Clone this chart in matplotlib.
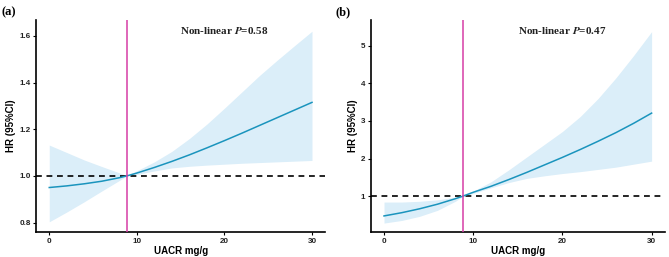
import matplotlib.pyplot as plt

# ============================================
# Data
# ============================================

uacr = [0, 2, 4, 6, 8, 8.87, 10, 12, 14, 16, 18, 20, 22, 24, 26, 28, 30]

# panel (a)
hr_a = [0.950, 0.957, 0.966, 0.977, 0.992, 1.000, 1.012, 1.036, 1.062, 1.090, 1.120, 1.151,
        1.183, 1.216, 1.249, 1.282, 1.315]
lo_a = [0.803, 0.845, 0.889, 0.935, 0.980, 1.000, 1.006, 1.021, 1.034, 1.041, 1.046, 1.050,
        1.054, 1.057, 1.060, 1.063, 1.066]
hi_a = [1.132, 1.100, 1.068, 1.040, 1.013, 1.000, 1.022, 1.060, 1.105, 1.160, 1.222, 1.290,
        1.360, 1.430, 1.495, 1.558, 1.620]

# panel (b)
hr_b = [0.47, 0.557, 0.661, 0.783, 0.929, 1.00, 1.10, 1.26, 1.44, 1.63, 1.83, 2.03,
        2.24, 2.46, 2.69, 2.94, 3.21]
lo_b = [0.28, 0.35, 0.46, 0.62, 0.86, 1.00, 1.07, 1.22, 1.36, 1.47, 1.54, 1.60,
        1.65, 1.71, 1.77, 1.85, 1.93]
hi_b = [0.84, 0.84, 0.86, 0.90, 0.97, 1.00, 1.13, 1.38, 1.70, 2.04, 2.38, 2.72,
        3.12, 3.60, 4.15, 4.75, 5.38]

ref_x = 8.87
ticks_a = [0.8, 1.0, 1.2, 1.4, 1.6]
ticks_b = [1, 2, 3, 4, 5]

# ============================================
# Plot
# ============================================

plt.rcParams["font.family"] = "Liberation Sans"
plt.rcParams["mathtext.fontset"] = "stix"

fig = plt.figure(figsize=(6.69, 2.57), dpi=100)
ax_a = fig.add_axes([0.054, 0.097, 0.432, 0.825])
ax_b = fig.add_axes([0.554, 0.097, 0.440, 0.825])

panels = [
    (ax_a, hr_a, lo_a, hi_a, ticks_a, (0.759, 1.668), "0.58", "(a)", 0.0, "{:.1f}"),
    (ax_b, hr_b, lo_b, hi_b, ticks_b, (0.04, 5.69), "0.47", "(b)", 0.5, "{:d}"),
]

for ax, hr, lo, hi, yt, ylim, p, tag, figx, fmt in panels:
    ax.fill_between(uacr, lo, hi, color="#dbeef9", lw=0, zorder=1)
    ax.plot(uacr, hr, color="#1a94bd", lw=1.1, zorder=3)
    ax.axhline(1, color="black", lw=1.2, ls=(0, (3.5, 2.8)), zorder=2)
    ax.axvline(ref_x, color="#d63da6", lw=1.1, zorder=4)

    ax.set_xlim(-1.5, 31.5)
    ax.set_ylim(*ylim)
    ax.set_xticks([0, 10, 20, 30])
    ax.set_yticks(yt)
    ax.set_yticklabels([fmt.format(v) for v in yt])

    for s in ["top", "right"]:
        ax.spines[s].set_visible(False)
    for s in ["left", "bottom"]:
        ax.spines[s].set_linewidth(1.2)
    ax.tick_params(length=2.5, width=0.8, labelsize=5.8, pad=1.5)
    for lab in ax.get_xticklabels() + ax.get_yticklabels():
        lab.set_fontweight("bold")
        lab.set_color("#222222")

    ax.set_xlabel("UACR mg/g", fontsize=7, fontweight="bold", labelpad=1)
    ax.set_ylabel("HR (95%CI)", fontsize=7, fontweight="bold", labelpad=2)

    ax.annotate("Non-linear $\\mathbfit{P}$=" + p, xy=(20, 0.95),
                xycoords=("data", "axes fraction"),
                ha="center", va="center", fontsize=8, fontweight="bold",
                family="Liberation Serif", color="#222222")
    fig.text(figx + 0.002, 0.975, tag, ha="left", va="top", fontsize=9,
             fontweight="bold", family="Liberation Serif")

plt.savefig("out.png", dpi=100)
